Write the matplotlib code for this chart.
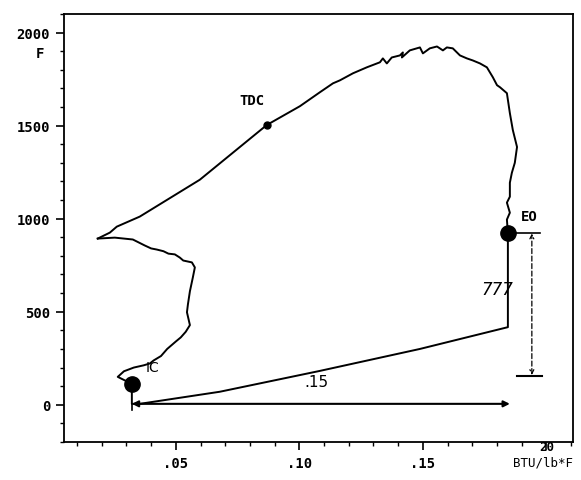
import matplotlib.pyplot as plt
import matplotlib.transforms as mtransforms
from matplotlib.ticker import MultipleLocator, FixedLocator

# entropy (BTU/lb*F) and temperature (F)
comp_s = [0.0322, 0.0265, 0.0290, 0.0330, 0.0370, 0.0395, 0.0410, 0.0440,
          0.0465, 0.0500, 0.0520, 0.0540, 0.0557, 0.0545, 0.0549, 0.0557,
          0.0569, 0.0577, 0.0565, 0.0530, 0.0516, 0.0496, 0.0470, 0.0450,
          0.0423, 0.0400, 0.0374, 0.0326, 0.0253, 0.0184]
comp_t = [112, 150, 180, 200, 212, 222, 238, 262,
          300, 340, 362, 392, 428, 497, 540, 610,
          685, 738, 765, 775, 791, 808, 812, 825,
          834, 840, 856, 888, 898, 893]

expan_s = [0.0184, 0.0233, 0.0261, 0.0354, 0.0597, 0.0868, 0.1002, 0.1083,
           0.1136, 0.1164, 0.1217, 0.1245, 0.1273, 0.1326, 0.1338, 0.1354,
           0.1374, 0.1407, 0.1419, 0.1415, 0.1447, 0.1488, 0.1500, 0.1528,
           0.1557, 0.1581, 0.1597, 0.1621, 0.1650, 0.1678, 0.1702, 0.1731,
           0.1759, 0.1783, 0.1800, 0.1812, 0.1840, 0.1852, 0.1864, 0.1881,
           0.1872, 0.1860, 0.1852, 0.1852, 0.1840, 0.1852, 0.1840, 0.1844]
expan_t = [893, 925, 957, 1011, 1209, 1503, 1604, 1679,
           1727, 1743, 1781, 1797, 1813, 1840, 1861, 1834,
           1866, 1877, 1893, 1866, 1904, 1920, 1888, 1915,
           1925, 1904, 1920, 1915, 1877, 1861, 1850, 1834,
           1813, 1760, 1717, 1706, 1674, 1567, 1476, 1385,
           1300, 1246, 1193, 1118, 1086, 1032, 995, 925]

exh_s = [0.1844, 0.1844, 0.1488, 0.1083, 0.0678, 0.0354, 0.0322, 0.0322]
exh_t = [925, 417, 300, 182, 70, 5, 5, 112]

# marked points
ic = (0.0322, 112)
tdc = (0.0868, 1503)
eo = (0.1844, 925)

fig = plt.figure(figsize=(5.81, 4.81), dpi=100)
ax = fig.add_axes([0.110, 0.079, 0.876, 0.890])
font = dict(family="DejaVu Sans Mono", weight="bold")

ax.plot(comp_s, comp_t, color="black", lw=1.4)
ax.plot(expan_s, expan_t, color="black", lw=1.4)
ax.plot(exh_s, exh_t, color="black", lw=1.4)

ax.plot(*ic, "o", color="black", ms=11)
ax.plot(*eo, "o", color="black", ms=11)
ax.plot(*tdc, "o", color="black", ms=5)

# entropy span arrow
ax.plot([ic[0], ic[0]], [5, -30], color="black", lw=1.2)
ax.annotate("", xy=(0.1852, 5), xytext=(ic[0], 5),
            arrowprops=dict(arrowstyle="<|-|>", color="black", lw=1.5,
                            mutation_scale=9, shrinkA=0, shrinkB=0))
ax.text(0.107, 123, ".15", fontsize=11, ha="center", va="center",
        family="DejaVu Sans")

# temperature drop dimension
ax.plot([eo[0], 0.1973], [925, 925], color="black", lw=1.2)
ax.plot([0.1880, 0.1982], [155, 155], color="black", lw=1.5)
ax.annotate("", xy=(0.1941, 920), xytext=(0.1941, 160),
            arrowprops=dict(arrowstyle="<->", color="black", lw=0.9,
                            ls=(0, (4, 2)), mutation_scale=7,
                            shrinkA=0, shrinkB=0))
ax.text(0.1800, 620, "777", fontsize=12, ha="center", va="center",
        family="DejaVu Sans", style="italic")

ax.text(0.0808, 1636, "TDC", fontsize=10, ha="center", va="center", **font)
ax.text(0.1930, 1016, "EO", fontsize=10, ha="center", va="center", **font)
ax.text(0.0405, 205, "IC", fontsize=10, ha="center", va="center",
        family="DejaVu Sans")

ax.set_xlim(0.0047, 0.2107)
ax.set_ylim(-200, 2100)

ax.xaxis.set_major_locator(FixedLocator([0.05, 0.10, 0.15, 0.20]))
ax.set_xticklabels([".05", ".10", ".15", ""], **font, fontsize=10)
ax.xaxis.set_minor_locator(MultipleLocator(0.01))
ax.set_yticks([0, 500, 1000, 1500, 2000])
ax.set_yticklabels(["0", "500", "1000", "1500", "2000"], **font, fontsize=10)
ax.yaxis.set_minor_locator(MultipleLocator(100))
ax.tick_params(which="major", direction="out", length=6, width=1.2, pad=4)
ax.tick_params(which="minor", direction="out", length=3, width=1.0)
for sp in ax.spines.values():
    sp.set_linewidth(1.3)

trans = mtransforms.blended_transform_factory(ax.transAxes, ax.transData)
ax.text(-0.047, 1888, "F", transform=trans, fontsize=10, ha="center",
        va="center", **font)
ax.text(0.2002, -222, "20", fontsize=9, ha="center", va="center",
        clip_on=False, **font)
ax.text(0.1986, -310, "BTU/lb*F", fontsize=9, ha="center", va="center",
        clip_on=False, family="DejaVu Sans Mono")

fig.savefig("out.png", dpi=100)
